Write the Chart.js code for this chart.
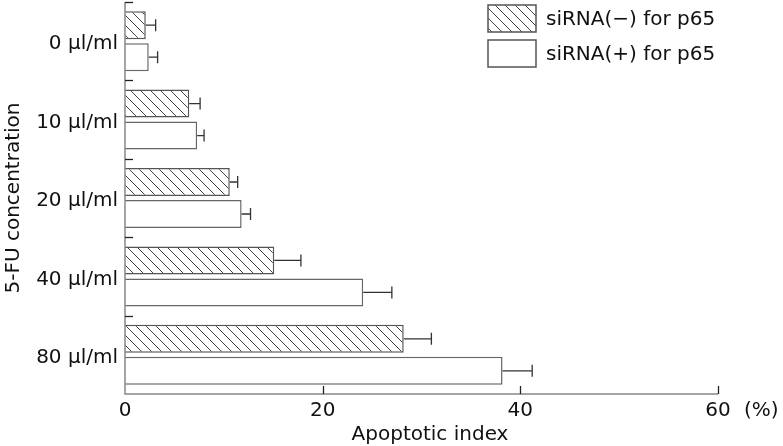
<!DOCTYPE html>
<html><head><meta charset="utf-8">
<script src="https://cdn.jsdelivr.net/npm/chart.js@4/dist/chart.umd.min.js"></script>
<style>html,body{margin:0;padding:0;background:#fff;}</style>
</head><body>
<canvas id="c" width="783" height="446" style="width:783px;height:446px;display:block"></canvas>
<script>
// ---- data ----
const categories = ['0 µl/ml', '10 µl/ml', '20 µl/ml', '40 µl/ml', '80 µl/ml'];
const seriesNames = ['siRNA(\u2212) for p65', 'siRNA(+) for p65'];
const negValues = [2.1, 6.5, 10.6, 15.1, 28.2];
const negErrors = [1.0, 1.1, 0.8, 2.7, 2.8];
const posValues = [2.4, 7.3, 11.8, 24.1, 38.2];
const posErrors = [0.9, 0.7, 0.9, 2.9, 3.0];
const xTicks = [0, 20, 40, 60];
const xTitle = 'Apoptotic index';
const xUnit = '(%)';
const yTitle = '5-FU concentration';

const FONT = "'DejaVu Sans', Verdana, sans-serif";

function makeHatch() {
  const c = document.createElement('canvas');
  c.width = 10; c.height = 10;
  const g = c.getContext('2d');
  g.fillStyle = '#fff'; g.fillRect(0, 0, 10, 10);
  g.strokeStyle = '#444'; g.lineWidth = 1;
  g.beginPath();
  g.moveTo(-2, -2); g.lineTo(12, 12);
  g.moveTo(-7, 3); g.lineTo(7, 17);
  g.moveTo(3, -7); g.lineTo(17, 7);
  g.stroke();
  return g.createPattern(c, 'repeat');
}
const hatch = makeHatch();

const errorSets = [negErrors, posErrors];

const extras = {
  id: 'extras',
  afterDatasetsDraw(chart) {
    const ctx = chart.ctx;
    const x = chart.scales.x;
    ctx.save();
    ctx.strokeStyle = '#333';
    ctx.lineWidth = 1.3;
    chart.data.datasets.forEach((ds, di) => {
      const meta = chart.getDatasetMeta(di);
      meta.data.forEach((bar, i) => {
        const v = ds.data[i];
        const e = errorSets[di][i];
        const x0 = x.getPixelForValue(v);
        const x1 = x.getPixelForValue(v + e);
        const y = bar.y;
        ctx.beginPath();
        ctx.moveTo(x0, y); ctx.lineTo(x1, y);
        ctx.moveTo(x1, y - 6); ctx.lineTo(x1, y + 6);
        ctx.stroke();
      });
    });
    ctx.restore();
  },
  afterDraw(chart) {
    const ctx = chart.ctx;
    const x = chart.scales.x, y = chart.scales.y;
    const area = chart.chartArea;
    ctx.save();
    // axis lines
    ctx.strokeStyle = '#888';
    ctx.lineWidth = 1.5;
    ctx.beginPath();
    ctx.moveTo(area.left, area.top); ctx.lineTo(area.left, area.bottom);
    ctx.lineTo(area.right, area.bottom);
    ctx.stroke();
    ctx.strokeStyle = '#222';
    ctx.lineWidth = 1.3;
    // category boundary ticks (inward)
    const band = y.getPixelForValue(1) - y.getPixelForValue(0);
    categories.forEach((c, i) => {
      const py = Math.round(y.getPixelForValue(i) - band / 2) + 0.5;
      ctx.beginPath(); ctx.moveTo(area.left, py); ctx.lineTo(area.left + 8, py); ctx.stroke();
    });
    // x ticks (inward)
    xTicks.forEach(t => {
      if (t === 0) return;
      const px = Math.round(x.getPixelForValue(t)) + 0.5;
      ctx.beginPath(); ctx.moveTo(px, area.bottom); ctx.lineTo(px, area.bottom - 8); ctx.stroke();
    });
    // unit and x title
    ctx.fillStyle = '#111';
    ctx.font = '20px ' + FONT;
    ctx.textBaseline = 'middle';
    ctx.textAlign = 'left';
    ctx.fillText(xUnit, 744, 411);
    ctx.textAlign = 'center';
    ctx.fillText(xTitle, 430, 435);
    // legend
    const boxes = [{y: 5}, {y: 40}];
    chart.data.datasets.forEach((ds, di) => {
      const by = boxes[di].y;
      ctx.fillStyle = ds.backgroundColor;
      ctx.fillRect(488, by, 48, 27);
      ctx.strokeStyle = '#555';
      ctx.lineWidth = 1.5;
      ctx.strokeRect(488, by, 48, 27);
      ctx.fillStyle = '#111';
      ctx.textAlign = 'left';
      ctx.fillText(ds.label, 546, by + 15);
    });
    ctx.restore();
  }
};

new Chart(document.getElementById('c'), {
  type: 'bar',
  data: {
    labels: categories,
    datasets: [
      { label: seriesNames[0], data: negValues, backgroundColor: hatch, borderColor: '#555', borderWidth: 1.5,
        barPercentage: 0.875, categoryPercentage: 0.816 },
      { label: seriesNames[1], data: posValues, backgroundColor: '#ffffff', borderColor: '#666', borderWidth: 1.5,
        barPercentage: 0.875, categoryPercentage: 0.816 }
    ]
  },
  options: {
    indexAxis: 'y',
    responsive: false,
    animation: false,
    devicePixelRatio: 1,
    layout: { padding: { top: 2, right: 65, left: 0, bottom: 0 } },
    plugins: { legend: { display: false }, tooltip: { enabled: false } },
    scales: {
      y: {
        type: 'category',
        offset: true,
        grid: { display: false, drawTicks: false },
        border: { display: false },
        ticks: { color: '#111', font: { family: FONT, size: 20 }, padding: 7, labelOffset: 3 },
        title: { display: true, text: yTitle, color: '#111', font: { family: FONT, size: 20 }, padding: { top: 2, bottom: 0 } },
        afterFit(s) { s.width = 125; s.paddingTop = 0; s.paddingBottom = 0; }
      },
      x: {
        min: 0, max: 60,
        afterBuildTicks(s) { s.ticks = xTicks.map(v => ({ value: v })); },
        grid: { display: false, drawTicks: false },
        border: { display: false },
        ticks: { color: '#111', font: { family: FONT, size: 20 }, padding: 5, maxRotation: 0 },
        afterFit(s) { s.height = 52; s.paddingLeft = 0; s.paddingRight = 0; }
      }
    }
  },
  plugins: [extras]
});
</script>
</body></html>
